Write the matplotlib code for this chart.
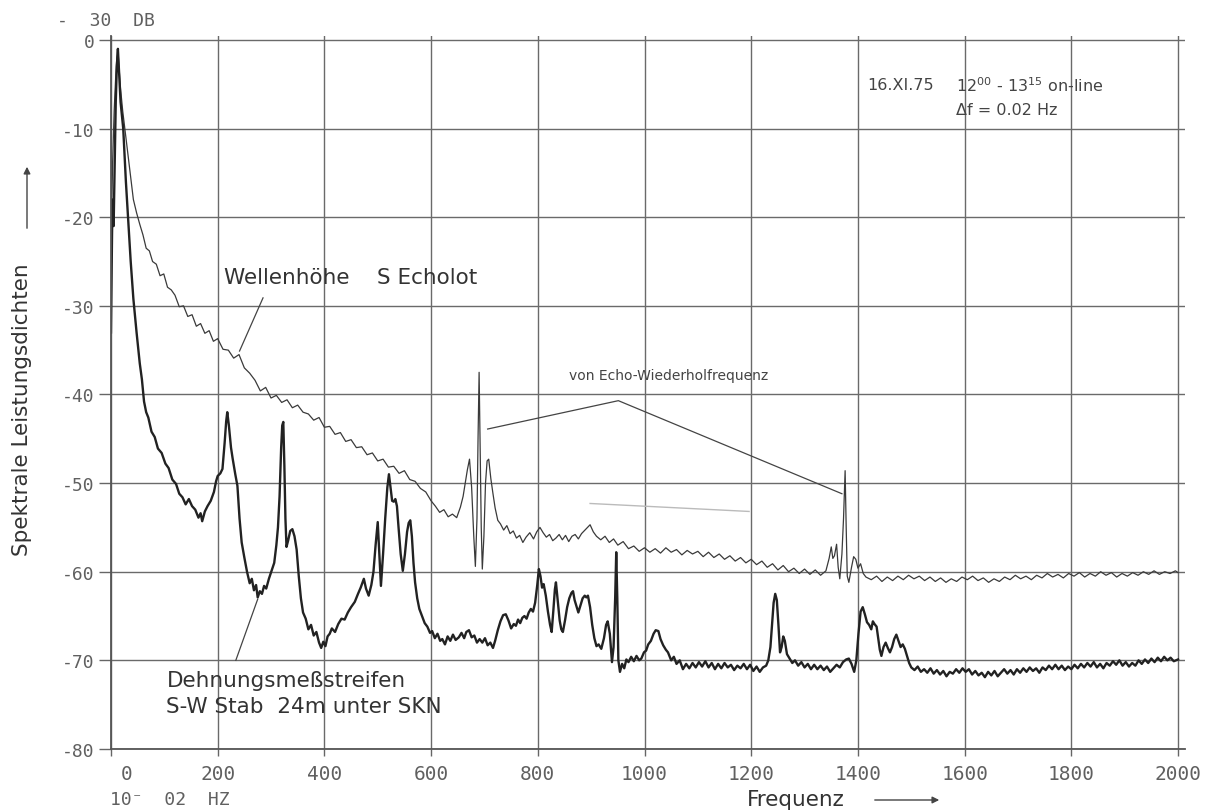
import matplotlib
matplotlib.use("Agg")
import matplotlib.pyplot as plt
import matplotlib.transforms as mtransforms

# Wellenhoehe S Echolot (duenne Kurve), Frequenz in 10^-2 Hz, Pegel in dB
wellen_f = [0, 3, 6, 9, 11, 13, 15, 18, 22, 26, 31, 36, 42, 48, 54, 60, 66, 72, 78, 85,
            92, 99, 106, 113, 120, 128, 136, 144, 152, 160, 168, 176, 184, 192, 200, 210, 220, 230, 240, 250,
            260, 270, 280, 290, 300, 310, 320, 330, 340, 350, 360, 370, 380, 390, 400, 410, 420, 430, 440, 450,
            460, 470, 480, 490, 500, 510, 520, 530, 540, 550, 560, 570, 580, 590, 600, 608, 616, 624, 632, 640,
            648, 655, 660, 664, 668, 672, 676, 680, 683, 686, 688, 690, 692, 694, 696, 699, 702, 705, 708, 712,
            716, 720, 725, 730, 736, 742, 748, 754, 760, 766, 772, 778, 785, 792, 798, 804, 810, 816, 822, 828,
            834, 840, 846, 852, 858, 864, 870, 876, 882, 890, 898, 904, 910, 918, 926, 934, 942, 950, 960, 970,
            980, 990, 1000, 1010, 1020, 1030, 1040, 1050, 1060, 1070, 1080, 1090, 1100, 1110, 1120, 1130, 1140, 1150, 1160, 1170,
            1180, 1190, 1200, 1210, 1220, 1230, 1240, 1250, 1260, 1270, 1280, 1290, 1300, 1310, 1320, 1330, 1340, 1346, 1350, 1353,
            1356, 1360, 1363, 1366, 1370, 1373, 1376, 1378, 1380, 1383, 1388, 1392, 1396, 1400, 1405, 1410, 1415, 1425, 1435, 1445,
            1455, 1465, 1475, 1485, 1495, 1505, 1515, 1525, 1535, 1545, 1555, 1565, 1575, 1585, 1595, 1605, 1615, 1625, 1635, 1645,
            1655, 1665, 1675, 1685, 1695, 1705, 1715, 1725, 1735, 1745, 1755, 1765, 1775, 1785, 1795, 1805, 1815, 1825, 1835, 1845,
            1855, 1865, 1875, 1885, 1895, 1905, 1915, 1925, 1935, 1945, 1955, 1965, 1975, 1985, 1995, 2000]
wellen_db = [-24, -14, -8, -4, -2, -1, -3, -5.5, -8, -10, -12.5, -15, -18, -19.5, -20.8, -22, -23.5, -23.8, -25, -25.3,
             -26.6, -26.4, -27.9, -28.2, -28.8, -30.1, -30.0, -31.2, -31.0, -32.3, -32.0, -33.1, -32.8, -34.0, -33.7, -34.9, -35.0, -35.9, -35.5, -37.0,
             -37.6, -38.4, -39.6, -39.2, -40.4, -40.1, -40.9, -40.6, -41.5, -41.2, -42.0, -42.2, -42.9, -42.6, -43.7, -43.6, -44.5, -44.3, -45.3, -45.1,
             -46.0, -45.9, -46.8, -46.6, -47.5, -47.3, -48.2, -48.1, -48.9, -48.6, -49.6, -49.8, -50.6, -51.0, -52.0, -52.6, -53.3, -53.0, -53.8, -53.5,
             -53.9, -52.7, -51.5, -50.0, -48.5, -47.3, -50.5, -56, -59.4, -54, -45, -37.5, -46, -55, -59.7, -56, -50, -47.5, -47.3, -49.5,
             -51.2, -52.8, -54.2, -54.6, -55.3, -54.8, -55.7, -55.4, -56.2, -55.9, -56.7, -56.1, -55.6, -56.3, -55.5, -55.0, -55.6, -56.1, -55.8, -56.5,
             -56.2, -55.8, -56.4, -55.9, -56.6, -56.0, -55.8, -56.3, -55.7, -55.2, -54.7, -55.5, -56.0, -56.4, -56.0, -56.7, -56.3, -57.0, -56.6, -57.4,
             -57.1, -57.7, -57.3, -57.8, -57.4, -57.9, -57.3, -57.8, -57.5, -58.1, -57.6, -58.0, -57.7, -58.3, -57.8, -58.4, -58.0, -58.6, -58.2, -58.8,
             -58.4, -59.0, -58.6, -59.2, -58.8, -59.5, -59.1, -59.8, -59.3, -60.0, -59.6, -60.2, -59.7, -60.3, -59.8, -60.4, -59.9, -58.5, -57.2, -58.5,
             -58.2, -56.9, -59.5, -60.8, -58, -54, -48.6, -55, -60.5, -61.2, -59.5, -58.3, -58.6, -59.6, -59.1, -60.2, -60.6, -60.9, -60.5, -61.1,
             -60.6, -61.0, -60.5, -60.9, -60.4, -60.8, -60.5, -61.0, -60.6, -61.1, -60.7, -61.2, -60.8, -61.1, -60.6, -60.9, -60.5, -61.0, -60.7, -61.2,
             -60.8, -61.1, -60.6, -60.9, -60.4, -60.8, -60.5, -60.9, -60.4, -60.7, -60.2, -60.6, -60.3, -60.7, -60.2, -60.5, -60.1, -60.6, -60.2, -60.5,
             -60.0, -60.4, -60.1, -60.6, -60.2, -60.5, -60.1, -60.4, -60.0, -60.3, -59.9, -60.3, -60.0, -60.2, -59.9, -60.1]

# Dehnungsmessstreifen S-W Stab (dicke Kurve)
dehn_f = [0, 2, 3, 5, 7, 9, 11, 13, 15, 18, 23, 28, 32, 37, 42, 48, 54, 58, 62, 66,
          70, 76, 82, 88, 95, 102, 108, 115, 122, 128, 134, 140, 146, 152, 158, 164, 168, 171, 176, 181,
          187, 193, 197, 200, 205, 209, 213, 216, 218, 221, 225, 228, 233, 237, 241, 245, 250, 255, 260, 264,
          268, 272, 275, 279, 283, 287, 291, 296, 301, 306, 310, 313, 316, 319, 321, 323, 325, 327, 329, 332,
          336, 340, 344, 348, 352, 356, 360, 365, 370, 375, 380, 385, 390, 394, 398, 402, 406, 410, 414, 420,
          426, 432, 438, 444, 450, 457, 463, 468, 474, 478, 483, 488, 492, 496, 500, 503, 506, 510, 514, 518,
          521, 524, 527, 530, 533, 536, 539, 543, 547, 551, 555, 558, 561, 564, 567, 570, 574, 578, 583, 588,
          593, 598, 602, 607, 612, 617, 621, 626, 631, 636, 641, 646, 652, 657, 662, 666, 671, 676, 681, 686,
          691, 696, 701, 706, 711, 716, 720, 725, 730, 735, 740, 745, 750, 755, 759, 763, 767, 771, 775, 779,
          783, 787, 791, 795, 799, 802, 805, 808, 811, 815, 819, 823, 826, 829, 832, 834, 837, 841, 844, 847,
          851, 855, 859, 863, 866, 869, 873, 876, 880, 884, 888, 891, 894, 898, 902, 906, 910, 914, 919, 924,
          928, 931, 935, 939, 942, 945, 947, 949, 951, 954, 958, 962, 966, 970, 975, 980, 985, 990, 994, 999,
          1003, 1007, 1012, 1017, 1021, 1026, 1030, 1035, 1040, 1044, 1050, 1055, 1060, 1066, 1072, 1078, 1084, 1090, 1096, 1102,
          1108, 1114, 1120, 1126, 1132, 1138, 1144, 1150, 1156, 1162, 1168, 1174, 1180, 1186, 1192, 1198, 1204, 1210, 1216, 1222,
          1228, 1232, 1236, 1239, 1242, 1245, 1248, 1251, 1254, 1257, 1260, 1263, 1267, 1272, 1277, 1282, 1288, 1294, 1300, 1306,
          1312, 1318, 1324, 1330, 1336, 1342, 1348, 1354, 1360, 1366, 1372, 1378, 1383, 1388, 1393, 1397, 1401, 1405, 1409, 1413,
          1417, 1421, 1425, 1428, 1431, 1435, 1438, 1441, 1444, 1448, 1452, 1456, 1460, 1464, 1468, 1472, 1476, 1480, 1484, 1488,
          1492, 1496, 1500, 1506, 1512, 1518, 1524, 1530, 1536, 1542, 1548, 1554, 1560, 1566, 1572, 1578, 1584, 1590, 1596, 1602,
          1608, 1614, 1620, 1626, 1632, 1638, 1644, 1650, 1656, 1662, 1668, 1674, 1680, 1686, 1692, 1698, 1704, 1710, 1716, 1722,
          1728, 1734, 1740, 1746, 1752, 1758, 1764, 1770, 1776, 1782, 1788, 1794, 1800, 1806, 1812, 1818, 1824, 1830, 1836, 1842,
          1848, 1854, 1860, 1866, 1872, 1878, 1884, 1890, 1896, 1902, 1908, 1914, 1920, 1926, 1932, 1938, 1944, 1950, 1956, 1962,
          1968, 1974, 1980, 1986, 1992, 2000]
dehn_db = [-33, -22, -18, -21, -14, -7, -3, -1, -3.5, -7, -10, -16, -20, -25, -29.2, -33, -36.5, -38.3, -40.8, -42,
           -42.6, -44.2, -44.8, -46.1, -46.6, -47.8, -48.3, -49.6, -50.1, -51.2, -51.6, -52.4, -51.8, -52.6, -53.0, -53.9, -53.4, -54.3, -53.2, -52.6,
           -52.0, -51.0, -49.8, -49.2, -48.9, -48.4, -45.5, -43.0, -42.0, -43.5, -46.0, -47.2, -49.0, -50.3, -54, -56.7, -58.4, -60.0, -61.3, -60.8,
           -62.1, -61.5, -62.9, -62.2, -62.5, -61.6, -61.9, -60.8, -59.9, -59.0, -57.0, -55.0, -51.5, -46, -43.5, -43.1, -48, -54, -57.2, -56.5,
           -55.4, -55.2, -56.0, -57.5, -60.5, -63.0, -64.6, -65.3, -66.5, -66.0, -67.2, -66.8, -68.0, -68.6, -67.9, -68.4, -67.3, -67.0, -66.4, -66.8,
           -65.9, -65.3, -65.4, -64.6, -64.0, -63.4, -62.5, -61.8, -60.8, -61.9, -62.7, -61.5, -60.0, -57.0, -54.4, -58, -61.6, -58, -54, -50.5,
           -49.0, -50.5, -52.0, -52.1, -51.8, -52.6, -55, -58, -59.9, -58, -55.5, -54.5, -54.2, -56, -59, -61.2, -63, -64.2, -65.0, -65.8,
           -66.2, -66.9, -66.7, -67.5, -67.0, -67.8, -67.6, -68.2, -67.3, -67.8, -67.1, -67.7, -67.4, -66.9, -67.5, -66.8, -66.6, -67.4, -67.2, -68.0,
           -67.6, -68.0, -67.5, -68.3, -68.0, -68.6, -67.8, -66.6, -65.6, -64.9, -64.8, -65.5, -66.4, -65.9, -66.1, -65.4, -65.8, -65.2, -65.0, -65.3,
           -64.6, -64.2, -64.5, -63.5, -61.5, -59.7, -60.5, -61.8, -61.4, -62.7, -64.5, -66.0, -66.8, -64.5, -62.0, -61.2, -63.0, -65.5, -66.5, -66.8,
           -65.5, -64.0, -63.0, -62.4, -62.2, -63.2, -64.0, -64.6, -63.8, -63.0, -62.7, -62.9, -62.7, -64.0, -66.0, -67.5, -68.4, -68.2, -68.7, -67.5,
           -66.0, -65.6, -67.0, -70.2, -68.5, -63, -57.8, -63, -70, -71.3, -70.4, -70.9, -69.9, -70.2, -69.6, -70.1, -69.5, -70.0, -69.8, -69.1,
           -68.9, -68.2, -67.8, -67.0, -66.6, -66.7, -67.6, -68.3, -68.8, -69.1, -70.0, -69.6, -70.4, -70.0, -71.0, -70.4, -70.9, -70.3, -70.8, -70.2,
           -70.7, -70.1, -70.8, -70.3, -71.0, -70.4, -70.9, -70.3, -70.8, -70.5, -71.1, -70.6, -70.9, -70.4, -71.0, -70.5, -71.2, -70.7, -71.3, -70.8,
           -70.6, -70.0, -68.5, -66, -63.5, -62.5, -63.2, -66, -69.1, -68.5, -67.3, -67.8, -69.3, -69.8, -70.3, -70.0, -70.6, -70.2, -70.8, -70.4,
           -71.0, -70.5, -71.0, -70.6, -71.1, -70.7, -71.3, -70.9, -70.5, -70.8, -70.2, -69.9, -69.8, -70.4, -71.3, -70.0, -67.0, -64.5, -64.0, -64.8,
           -65.7, -66.0, -66.5, -65.6, -65.9, -66.2, -67.5, -68.8, -69.5, -68.5, -68.0, -68.6, -69.1, -68.5, -67.6, -67.1, -67.8, -68.5, -68.2, -68.7,
           -69.5, -70.3, -70.8, -71.1, -70.7, -71.3, -71.0, -71.4, -70.9, -71.5, -71.1, -71.6, -71.2, -71.8, -71.3, -71.5, -71.0, -71.4, -70.9, -71.3,
           -71.0, -71.6, -71.2, -71.7, -71.4, -71.9, -71.3, -71.7, -71.2, -71.8, -71.4, -71.0, -71.5, -71.1, -71.6, -71.0, -71.4, -70.9, -71.3, -70.8,
           -71.2, -70.9, -71.4, -70.8, -71.1, -70.6, -71.0, -70.5, -71.0, -70.6, -71.1, -70.7, -71.0, -70.5, -70.9, -70.4, -70.8, -70.3, -70.7, -70.2,
           -70.8, -70.4, -70.9, -70.3, -70.6, -70.1, -70.5, -70.0, -70.6, -70.2, -70.7, -70.3, -70.6, -70.0, -70.4, -69.9, -70.3, -69.8, -70.2, -69.7,
           -70.1, -69.6, -70.0, -69.7, -70.1, -69.9]

x_ticks = list(range(0, 2001, 200))
y_ticks = list(range(-80, 1, 10))

mono = "DejaVu Sans Mono"

fig = plt.figure(figsize=(12.18, 8.12), dpi=100)
ax = fig.add_axes([0.0911, 0.0764, 0.8818, 0.8786])

ax.plot(wellen_f, wellen_db, color="#3a3a3a", lw=0.9)
ax.plot(dehn_f, dehn_db, color="#222222", lw=1.7)

ax.set_xlim(0, 2013)
ax.set_ylim(-80, 0.5)
ax.set_xticks(x_ticks)
ax.set_yticks(y_ticks)
ax.set_xticklabels([str(v) for v in x_ticks], family=mono)
ax.set_yticklabels([str(v) for v in y_ticks], family=mono)
ax.grid(True, color="#6a6a6a", lw=1.0)
for s in ["top", "right"]:
    ax.spines[s].set_visible(False)
for s in ["left", "bottom"]:
    ax.spines[s].set_color("#555555")
    ax.spines[s].set_linewidth(1.3)
ax.tick_params(axis="y", direction="out", length=9, width=1.0, color="#666666",
               labelsize=13, labelcolor="#606060", pad=3)
ax.tick_params(axis="x", direction="out", length=5, width=1.0, color="#666666",
               labelsize=14, labelcolor="#606060", pad=6)
# die "0" steht im Original etwas rechts der Achse
lab0 = ax.get_xticklabels()[0]
lab0.set_transform(lab0.get_transform() + mtransforms.ScaledTranslation(0.16, 0, fig.dpi_scale_trans))

# Beschriftungen
ax.text(212, -26.7, "Wellenhöhe    S Echolot", fontsize=15.5, color="#333333", va="center")
ax.plot([285, 241], [-29.1, -35.1], color="#444444", lw=0.9)
ax.text(104, -72.2, "Dehnungsmeßstreifen", fontsize=15.5, color="#333333", va="center")
ax.text(104, -75.1, "S-W Stab  24m unter SKN", fontsize=15.5, color="#333333", va="center")
ax.plot([275, 234], [-63.1, -70.0], color="#444444", lw=0.9)

ax.text(1046, -37.8, "von Echo-Wiederholfrequenz", fontsize=10, color="#444444", ha="center", va="center")
ax.plot([706, 951, 1370], [-43.9, -40.7, -51.2], color="#444444", lw=0.9)
ax.plot([898, 1196], [-52.3, -53.2], color="#bbbbbb", lw=1.0)

ax.text(1417, -5.0, "16.XI.75", fontsize=11.5, color="#444444", va="center")
ax.text(1583, -5.0, r"12$^{00}$ - 13$^{15}$ on-line", fontsize=11.5, color="#444444", va="center")
ax.text(1583, -7.9, "Δf = 0.02 Hz", fontsize=11.5, color="#444444", va="center")

fig.text(57 / 1218, 1 - 21 / 812, "-  30  DB", fontsize=13, color="#606060", va="center", family=mono)
fig.text(110 / 1218, 1 - 800 / 812, "10⁻  02  HZ", fontsize=13, color="#606060", va="center", family=mono)
fig.text(747 / 1218, 1 - 800 / 812, "Frequenz", fontsize=15.5, color="#333333", va="center")
ax.annotate("", xy=(942 / 1218, 1 - 801 / 812), xytext=(872 / 1218, 1 - 801 / 812),
            xycoords="figure fraction", textcoords="figure fraction", annotation_clip=False,
            arrowprops=dict(arrowstyle="-|>", color="#444444", lw=1.0))
fig.text(22 / 1218, 1 - 410 / 812, "Spektrale Leistungsdichten", fontsize=15.5, color="#333333",
         rotation=90, ha="center", va="center")
ax.annotate("", xy=(27 / 1218, 1 - 165 / 812), xytext=(27 / 1218, 1 - 232 / 812),
            xycoords="figure fraction", textcoords="figure fraction", annotation_clip=False,
            arrowprops=dict(arrowstyle="-|>", color="#444444", lw=1.0))

fig.savefig("out.png", dpi=100)
